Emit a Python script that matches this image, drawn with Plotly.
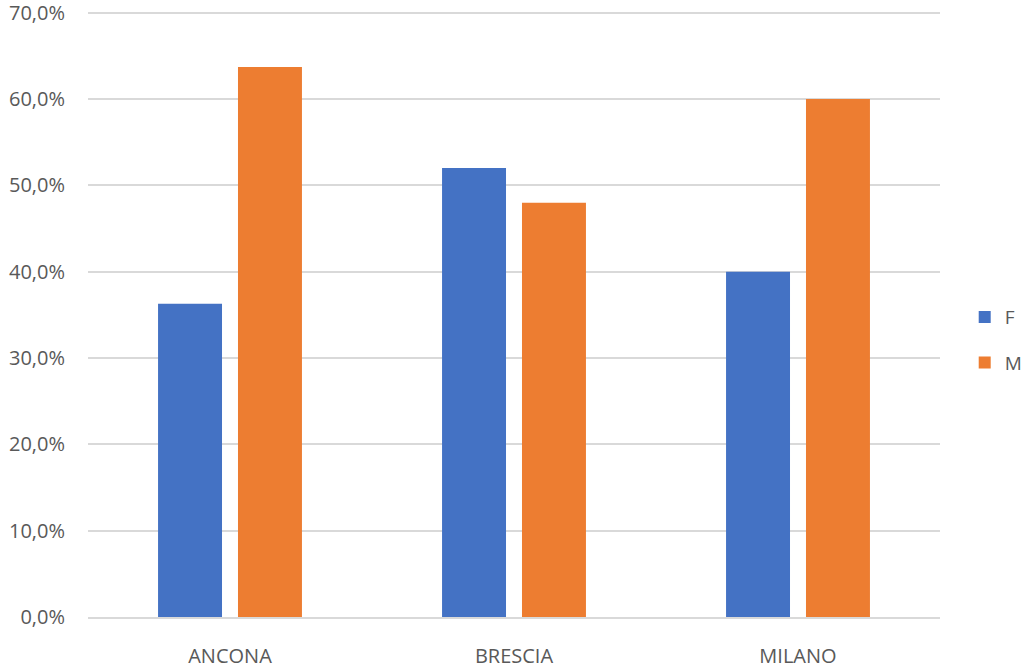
import plotly.graph_objects as go

categories = ["ANCONA", "BRESCIA", "MILANO"]
f_values = [0.363, 0.520, 0.400]
m_values = [0.637, 0.480, 0.600]
series_names = ["F", "M"]
colors = ["#4472C4", "#ED7D31"]
y_ticks = [0, 0.1, 0.2, 0.3, 0.4, 0.5, 0.6, 0.7]

fig = go.Figure()
for name, vals, col in zip(series_names, [f_values, m_values], colors):
    fig.add_trace(go.Bar(x=categories, y=vals, name=name, marker_color=col,
                         marker_line_width=0, legendgroup=name))

font_fam = "Open Sans, Liberation Sans, sans-serif"
fig.update_layout(
    width=1025, height=669,
    margin=dict(l=88, r=85, t=11, b=52, autoexpand=False),
    paper_bgcolor="white", plot_bgcolor="white",
    barmode="group", bargap=0.437, bargroupgap=0.2,
    separators=", ",
    font=dict(family=font_fam, size=20, color="#595959"),
    legend=dict(x=1.029, xanchor="left", y=0.457, yanchor="middle",
                tracegroupgap=18, font=dict(size=19, color="#595959")),
)
fig.update_yaxes(range=[0, 0.702], tickvals=y_ticks, tickformat=".1%",
                 gridcolor="#d9d9d9", gridwidth=1.5, zeroline=False,
                 ticklabelstandoff=22, ticklabeloverflow="allow",
                 showline=False, automargin=False)
fig.update_xaxes(showline=True, linecolor="#d9d9d9", linewidth=1.5,
                 ticklabelstandoff=20, showgrid=False, automargin=False)

fig.write_html("out.html", config={"displayModeBar": False},
               post_script="document.body.style.margin='0';")
